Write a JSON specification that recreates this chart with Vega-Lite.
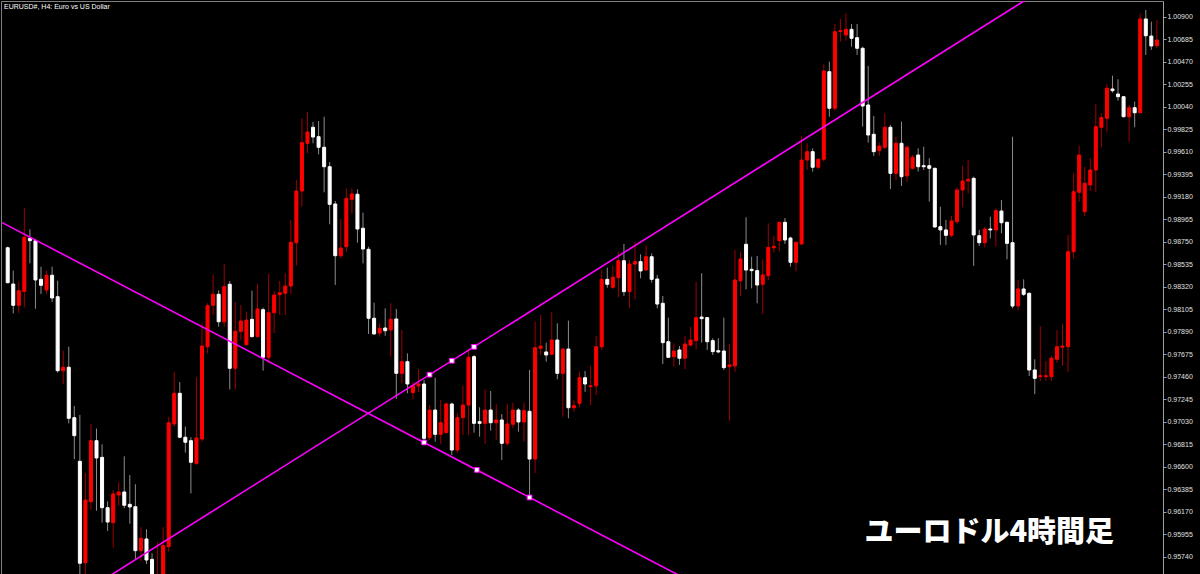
{
  "$schema": "https://vega.github.io/schema/vega-lite/v6.json",
  "width": 1162,
  "height": 575,
  "padding": {"left": 1, "top": 1, "right": 37, "bottom": 0},
  "autosize": "none",
  "background": "#000000",
  "title": {
    "text": "EURUSD#, H4:  Euro vs US Dollar",
    "anchor": "start",
    "frame": "group",
    "offset": -15,
    "dx": 3,
    "font": "Liberation Sans",
    "fontSize": 7,
    "fontWeight": "normal",
    "color": "#ffffff",
    "baseline": "alphabetic"
  },
  "config": {
    "view": {"stroke": "#808080", "strokeWidth": 1},
    "font": "Liberation Sans",
    "axis": {"labelOverlap": false, "labelBound": false, "labelSeparation": 0}
  },
  "datasets": {
    "candles": [
      {"i":0,"o":0.98695,"h":0.98705,"l":0.98355,"c":0.98361},
      {"i":1,"o":0.98348,"h":0.98476,"l":0.98068,"c":0.98145},
      {"i":2,"o":0.98145,"h":0.98370,"l":0.98074,"c":0.98284},
      {"i":3,"o":0.98279,"h":0.99075,"l":0.98126,"c":0.98795},
      {"i":4,"o":0.98785,"h":0.98871,"l":0.98546,"c":0.98762},
      {"i":5,"o":0.98762,"h":0.98776,"l":0.98112,"c":0.98387},
      {"i":6,"o":0.98393,"h":0.98514,"l":0.98253,"c":0.98336},
      {"i":7,"o":0.98291,"h":0.98476,"l":0.98253,"c":0.98432},
      {"i":8,"o":0.98432,"h":0.98514,"l":0.98176,"c":0.98215},
      {"i":9,"o":0.98227,"h":0.98380,"l":0.97501,"c":0.97520},
      {"i":10,"o":0.97520,"h":0.97711,"l":0.97393,"c":0.97553},
      {"i":11,"o":0.97553,"h":0.97749,"l":0.97017,"c":0.97065},
      {"i":12,"o":0.97071,"h":0.97183,"l":0.96673,"c":0.96899},
      {"i":13,"o":0.96654,"h":0.97097,"l":0.95520,"c":0.95680},
      {"i":14,"o":0.95685,"h":0.96543,"l":0.95539,"c":0.96284},
      {"i":15,"o":0.96268,"h":0.97011,"l":0.96189,"c":0.96851},
      {"i":16,"o":0.96851,"h":0.96966,"l":0.96182,"c":0.96686},
      {"i":17,"o":0.96692,"h":0.96817,"l":0.96068,"c":0.96211},
      {"i":18,"o":0.96211,"h":0.96272,"l":0.95988,"c":0.96074},
      {"i":19,"o":0.96068,"h":0.96380,"l":0.95829,"c":0.96342},
      {"i":20,"o":0.96332,"h":0.96454,"l":0.96230,"c":0.96361},
      {"i":21,"o":0.96361,"h":0.96702,"l":0.96205,"c":0.96234},
      {"i":22,"o":0.96243,"h":0.96523,"l":0.96058,"c":0.96218},
      {"i":23,"o":0.96220,"h":0.96435,"l":0.95711,"c":0.95800},
      {"i":24,"o":0.95800,"h":0.96024,"l":0.95701,"c":0.95918},
      {"i":25,"o":0.95912,"h":0.96004,"l":0.95673,"c":0.95711},
      {"i":26,"o":0.95717,"h":0.95775,"l":0.95472,"c":0.95520},
      {"i":27,"o":0.95480,"h":0.95880,"l":0.95460,"c":0.95545},
      {"i":28,"o":0.95472,"h":0.96024,"l":0.95424,"c":0.95848},
      {"i":29,"o":0.95838,"h":0.97080,"l":0.95790,"c":0.97023},
      {"i":30,"o":0.97011,"h":0.97505,"l":0.96985,"c":0.97304},
      {"i":31,"o":0.97304,"h":0.97412,"l":0.96874,"c":0.96884},
      {"i":32,"o":0.96884,"h":0.96985,"l":0.96737,"c":0.96836},
      {"i":33,"o":0.96851,"h":0.96884,"l":0.96348,"c":0.96645},
      {"i":34,"o":0.96635,"h":0.97457,"l":0.96619,"c":0.96877},
      {"i":35,"o":0.96867,"h":0.97973,"l":0.96842,"c":0.97756},
      {"i":36,"o":0.97749,"h":0.98164,"l":0.97686,"c":0.98141},
      {"i":37,"o":0.98145,"h":0.98441,"l":0.98052,"c":0.98250},
      {"i":38,"o":0.98250,"h":0.98288,"l":0.97940,"c":0.97988},
      {"i":39,"o":0.97988,"h":0.98539,"l":0.97940,"c":0.98323},
      {"i":40,"o":0.98346,"h":0.98377,"l":0.97342,"c":0.97543},
      {"i":41,"o":0.97543,"h":0.98176,"l":0.97342,"c":0.97896},
      {"i":42,"o":0.97896,"h":0.98148,"l":0.97813,"c":0.97995},
      {"i":43,"o":0.97768,"h":0.98084,"l":0.97765,"c":0.98004},
      {"i":44,"o":0.98011,"h":0.98284,"l":0.97839,"c":0.97845},
      {"i":45,"o":0.97845,"h":0.98346,"l":0.97839,"c":0.98110},
      {"i":46,"o":0.98103,"h":0.98122,"l":0.97520,"c":0.97648},
      {"i":47,"o":0.97648,"h":0.98447,"l":0.97591,"c":0.98074},
      {"i":48,"o":0.98074,"h":0.98282,"l":0.97880,"c":0.98243},
      {"i":49,"o":0.98246,"h":0.98377,"l":0.98052,"c":0.98265},
      {"i":50,"o":0.98260,"h":0.98451,"l":0.98052,"c":0.98329},
      {"i":51,"o":0.98329,"h":0.98960,"l":0.98253,"c":0.98747},
      {"i":52,"o":0.98743,"h":0.99342,"l":0.98523,"c":0.99237},
      {"i":53,"o":0.99237,"h":0.99932,"l":0.99087,"c":0.99699},
      {"i":54,"o":0.99693,"h":0.99995,"l":0.99598,"c":0.99801},
      {"i":55,"o":0.99846,"h":0.99897,"l":0.99693,"c":0.99753},
      {"i":56,"o":0.99756,"h":0.99906,"l":0.99588,"c":0.99655},
      {"i":57,"o":0.99655,"h":0.99947,"l":0.99225,"c":0.99469},
      {"i":58,"o":0.99469,"h":0.99514,"l":0.98919,"c":0.99110},
      {"i":59,"o":0.99113,"h":0.99142,"l":0.98339,"c":0.98619},
      {"i":60,"o":0.98619,"h":0.98970,"l":0.98594,"c":0.98692},
      {"i":61,"o":0.98705,"h":0.99263,"l":0.98657,"c":0.99167},
      {"i":62,"o":0.99158,"h":0.99263,"l":0.99024,"c":0.99209},
      {"i":63,"o":0.99206,"h":0.99253,"l":0.98743,"c":0.98874},
      {"i":64,"o":0.98881,"h":0.99030,"l":0.98546,"c":0.98683},
      {"i":65,"o":0.98680,"h":0.98705,"l":0.97871,"c":0.98021},
      {"i":66,"o":0.98021,"h":0.98170,"l":0.97865,"c":0.97871},
      {"i":67,"o":0.97880,"h":0.97973,"l":0.97845,"c":0.97925},
      {"i":68,"o":0.97928,"h":0.98116,"l":0.97854,"c":0.97902},
      {"i":69,"o":0.97909,"h":0.98164,"l":0.97654,"c":0.98011},
      {"i":70,"o":0.98014,"h":0.98110,"l":0.97250,"c":0.97495},
      {"i":71,"o":0.97495,"h":0.97909,"l":0.97399,"c":0.97606},
      {"i":72,"o":0.97606,"h":0.97686,"l":0.97304,"c":0.97393},
      {"i":73,"o":0.97310,"h":0.97415,"l":0.97247,"c":0.97376},
      {"i":74,"o":0.97374,"h":0.97533,"l":0.97313,"c":0.97393},
      {"i":75,"o":0.97393,"h":0.97431,"l":0.96842,"c":0.96874},
      {"i":76,"o":0.96880,"h":0.97192,"l":0.96858,"c":0.97144},
      {"i":77,"o":0.97144,"h":0.97453,"l":0.96842,"c":0.96912},
      {"i":78,"o":0.96912,"h":0.97240,"l":0.96820,"c":0.97023},
      {"i":79,"o":0.96928,"h":0.97214,"l":0.96922,"c":0.97202},
      {"i":80,"o":0.97202,"h":0.97214,"l":0.96714,"c":0.96762},
      {"i":81,"o":0.96762,"h":0.97113,"l":0.96737,"c":0.97071},
      {"i":82,"o":0.97071,"h":0.97376,"l":0.96906,"c":0.97192},
      {"i":83,"o":0.97192,"h":0.97725,"l":0.96906,"c":0.97648},
      {"i":84,"o":0.97654,"h":0.97670,"l":0.96928,"c":0.97017},
      {"i":85,"o":0.97033,"h":0.97170,"l":0.96889,"c":0.97017},
      {"i":86,"o":0.97017,"h":0.97342,"l":0.96820,"c":0.97144},
      {"i":87,"o":0.97144,"h":0.97326,"l":0.96947,"c":0.97023},
      {"i":88,"o":0.97023,"h":0.97199,"l":0.96858,"c":0.97049},
      {"i":89,"o":0.97049,"h":0.97106,"l":0.96667,"c":0.96826},
      {"i":90,"o":0.96826,"h":0.97202,"l":0.96803,"c":0.97011},
      {"i":91,"o":0.97008,"h":0.97214,"l":0.96970,"c":0.97144},
      {"i":92,"o":0.97144,"h":0.97161,"l":0.96937,"c":0.97030},
      {"i":93,"o":0.97030,"h":0.97214,"l":0.96842,"c":0.97138},
      {"i":94,"o":0.97132,"h":0.97527,"l":0.96316,"c":0.96676},
      {"i":95,"o":0.96676,"h":0.97988,"l":0.96543,"c":0.97740},
      {"i":96,"o":0.97734,"h":0.98052,"l":0.97670,"c":0.97756},
      {"i":97,"o":0.97699,"h":0.97788,"l":0.97606,"c":0.97670},
      {"i":98,"o":0.97677,"h":0.98084,"l":0.97670,"c":0.97813},
      {"i":99,"o":0.97813,"h":0.97973,"l":0.97438,"c":0.97495},
      {"i":100,"o":0.97495,"h":0.97734,"l":0.97080,"c":0.97727},
      {"i":101,"o":0.97727,"h":0.97998,"l":0.97065,"c":0.97166},
      {"i":102,"o":0.97166,"h":0.97240,"l":0.97128,"c":0.97186},
      {"i":103,"o":0.97209,"h":0.97510,"l":0.97170,"c":0.97453},
      {"i":104,"o":0.97453,"h":0.97517,"l":0.97319,"c":0.97393},
      {"i":105,"o":0.97367,"h":0.97565,"l":0.97192,"c":0.97376},
      {"i":106,"o":0.97376,"h":0.97852,"l":0.97288,"c":0.97749},
      {"i":107,"o":0.97749,"h":0.98482,"l":0.97718,"c":0.98393},
      {"i":108,"o":0.98393,"h":0.98504,"l":0.98313,"c":0.98346},
      {"i":109,"o":0.98317,"h":0.98521,"l":0.98301,"c":0.98413},
      {"i":110,"o":0.98409,"h":0.98657,"l":0.98221,"c":0.98571},
      {"i":111,"o":0.98571,"h":0.98731,"l":0.98234,"c":0.98275},
      {"i":112,"o":0.98275,"h":0.98578,"l":0.98116,"c":0.98539},
      {"i":113,"o":0.98539,"h":0.98753,"l":0.98202,"c":0.98562},
      {"i":114,"o":0.98562,"h":0.98632,"l":0.98403,"c":0.98473},
      {"i":115,"o":0.98482,"h":0.98718,"l":0.98476,"c":0.98609},
      {"i":116,"o":0.98609,"h":0.98642,"l":0.98361,"c":0.98393},
      {"i":117,"o":0.98396,"h":0.98435,"l":0.98116,"c":0.98157},
      {"i":118,"o":0.98164,"h":0.98234,"l":0.97584,"c":0.97788},
      {"i":119,"o":0.97797,"h":0.98027,"l":0.97645,"c":0.97648},
      {"i":120,"o":0.97654,"h":0.97782,"l":0.97558,"c":0.97708},
      {"i":121,"o":0.97718,"h":0.97756,"l":0.97575,"c":0.97639},
      {"i":122,"o":0.97639,"h":0.97854,"l":0.97536,"c":0.97775},
      {"i":123,"o":0.97765,"h":0.97940,"l":0.97756,"c":0.97813},
      {"i":124,"o":0.97807,"h":0.98370,"l":0.97725,"c":0.98027},
      {"i":125,"o":0.98033,"h":0.98451,"l":0.97788,"c":0.98017},
      {"i":126,"o":0.98027,"h":0.98030,"l":0.97718,"c":0.97797},
      {"i":127,"o":0.97807,"h":0.97830,"l":0.97670,"c":0.97702},
      {"i":128,"o":0.97711,"h":0.97830,"l":0.97686,"c":0.97699},
      {"i":129,"o":0.97708,"h":0.98027,"l":0.97527,"c":0.97549},
      {"i":130,"o":0.97558,"h":0.97775,"l":0.97042,"c":0.97575},
      {"i":131,"o":0.97565,"h":0.98673,"l":0.97510,"c":0.98387},
      {"i":132,"o":0.98380,"h":0.98657,"l":0.98234,"c":0.98587},
      {"i":133,"o":0.98728,"h":0.98986,"l":0.98298,"c":0.98482},
      {"i":134,"o":0.98489,"h":0.98609,"l":0.98307,"c":0.98476},
      {"i":135,"o":0.98476,"h":0.98616,"l":0.98164,"c":0.98339},
      {"i":136,"o":0.98346,"h":0.98584,"l":0.98062,"c":0.98435},
      {"i":137,"o":0.98428,"h":0.98928,"l":0.98387,"c":0.98699},
      {"i":138,"o":0.98695,"h":0.98810,"l":0.98651,"c":0.98709},
      {"i":139,"o":0.98762,"h":0.98941,"l":0.98661,"c":0.98938},
      {"i":140,"o":0.98938,"h":0.98979,"l":0.98731,"c":0.98769},
      {"i":141,"o":0.98788,"h":0.98800,"l":0.98514,"c":0.98556},
      {"i":142,"o":0.98556,"h":0.98750,"l":0.98470,"c":0.98747},
      {"i":143,"o":0.98731,"h":0.99763,"l":0.98722,"c":0.99533},
      {"i":144,"o":0.99533,"h":0.99693,"l":0.99438,"c":0.99613},
      {"i":145,"o":0.99613,"h":0.99645,"l":0.99422,"c":0.99464},
      {"i":146,"o":0.99464,"h":0.99550,"l":0.99445,"c":0.99540},
      {"i":147,"o":0.99540,"h":1.00448,"l":0.99517,"c":1.00384},
      {"i":148,"o":1.00377,"h":1.00473,"l":0.99947,"c":1.00028},
      {"i":149,"o":1.00028,"h":1.00833,"l":1.00005,"c":1.00760},
      {"i":150,"o":1.00760,"h":1.00881,"l":1.00664,"c":1.00769},
      {"i":151,"o":1.00728,"h":1.00935,"l":1.00674,"c":1.00782},
      {"i":152,"o":1.00782,"h":1.00833,"l":1.00616,"c":1.00696},
      {"i":153,"o":1.00702,"h":1.00833,"l":1.00537,"c":1.00601},
      {"i":154,"o":1.00601,"h":1.00616,"l":0.99852,"c":1.00049},
      {"i":155,"o":1.00059,"h":1.00432,"l":0.99699,"c":0.99772},
      {"i":156,"o":0.99779,"h":0.99954,"l":0.99572,"c":0.99613},
      {"i":157,"o":0.99622,"h":0.99699,"l":0.99572,"c":0.99667},
      {"i":158,"o":0.99655,"h":0.99980,"l":0.99636,"c":0.99846},
      {"i":159,"o":0.99846,"h":0.99868,"l":0.99256,"c":0.99406},
      {"i":160,"o":0.99406,"h":0.99756,"l":0.99342,"c":0.99693},
      {"i":161,"o":0.99693,"h":0.99899,"l":0.99285,"c":0.99374},
      {"i":162,"o":0.99381,"h":0.99677,"l":0.99326,"c":0.99655},
      {"i":163,"o":0.99454,"h":0.99581,"l":0.99445,"c":0.99559},
      {"i":164,"o":0.99581,"h":0.99645,"l":0.99422,"c":0.99469},
      {"i":165,"o":0.99479,"h":0.99660,"l":0.99438,"c":0.99469},
      {"i":166,"o":0.99479,"h":0.99550,"l":0.99135,"c":0.99454},
      {"i":167,"o":0.99454,"h":0.99460,"l":0.98887,"c":0.98893},
      {"i":168,"o":0.98896,"h":0.99087,"l":0.98722,"c":0.98865},
      {"i":169,"o":0.98865,"h":0.98960,"l":0.98722,"c":0.98814},
      {"i":170,"o":0.98814,"h":0.98998,"l":0.98795,"c":0.98951},
      {"i":171,"o":0.98944,"h":0.99273,"l":0.98922,"c":0.99247},
      {"i":172,"o":0.99247,"h":0.99476,"l":0.99081,"c":0.99333},
      {"i":173,"o":0.99333,"h":0.99533,"l":0.99215,"c":0.99349},
      {"i":174,"o":0.99358,"h":0.99374,"l":0.98521,"c":0.98817},
      {"i":175,"o":0.98810,"h":0.98865,"l":0.98712,"c":0.98743},
      {"i":176,"o":0.98743,"h":0.98893,"l":0.98699,"c":0.98874},
      {"i":177,"o":0.98874,"h":0.98992,"l":0.98785,"c":0.98865},
      {"i":178,"o":0.98865,"h":0.99072,"l":0.98705,"c":0.99049},
      {"i":179,"o":0.99046,"h":0.99151,"l":0.98833,"c":0.98934},
      {"i":180,"o":0.98938,"h":0.98944,"l":0.98584,"c":0.98737},
      {"i":181,"o":0.98743,"h":0.99756,"l":0.98116,"c":0.98138},
      {"i":182,"o":0.98138,"h":0.98387,"l":0.98093,"c":0.98301},
      {"i":183,"o":0.98301,"h":0.98393,"l":0.98234,"c":0.98250},
      {"i":184,"o":0.98260,"h":0.98265,"l":0.97469,"c":0.97527},
      {"i":185,"o":0.97527,"h":0.97629,"l":0.97295,"c":0.97447},
      {"i":186,"o":0.97463,"h":0.97947,"l":0.97422,"c":0.97472},
      {"i":187,"o":0.97463,"h":0.97613,"l":0.97422,"c":0.97472},
      {"i":188,"o":0.97463,"h":0.97661,"l":0.97422,"c":0.97639},
      {"i":189,"o":0.97629,"h":0.97909,"l":0.97596,"c":0.97749},
      {"i":190,"o":0.97744,"h":0.97966,"l":0.97565,"c":0.97756},
      {"i":191,"o":0.97749,"h":0.98817,"l":0.97510,"c":0.98657},
      {"i":192,"o":0.98657,"h":0.99406,"l":0.98594,"c":0.99230},
      {"i":193,"o":0.99225,"h":0.99667,"l":0.99135,"c":0.99581},
      {"i":194,"o":0.99039,"h":0.99469,"l":0.98998,"c":0.99311},
      {"i":195,"o":0.99295,"h":0.99550,"l":0.99237,"c":0.99438},
      {"i":196,"o":0.99438,"h":1.00066,"l":0.99230,"c":0.99852},
      {"i":197,"o":0.99846,"h":0.99980,"l":0.99655,"c":0.99938},
      {"i":198,"o":0.99932,"h":1.00260,"l":0.99798,"c":1.00219},
      {"i":199,"o":1.00212,"h":1.00339,"l":1.00177,"c":1.00196},
      {"i":200,"o":1.00164,"h":1.00305,"l":1.00100,"c":1.00138},
      {"i":201,"o":1.00138,"h":1.00145,"l":0.99941,"c":0.99947},
      {"i":202,"o":0.99947,"h":1.00059,"l":0.99708,"c":1.00033},
      {"i":203,"o":1.00033,"h":1.00091,"l":0.99846,"c":0.99985},
      {"i":204,"o":0.99985,"h":1.00935,"l":0.99980,"c":1.00881},
      {"i":205,"o":1.00881,"h":1.00967,"l":1.00537,"c":1.00721},
      {"i":206,"o":1.00718,"h":1.00855,"l":1.00585,"c":1.00623},
      {"i":207,"o":1.00626,"h":1.00871,"l":1.00601,"c":1.00680}
    ],
    "lines": [
      {"line": "down", "i": -1, "p": 0.98935},
      {"line": "down", "i": 125, "p": 0.95452},
      {"line": "up", "i": 15, "p": 0.95447},
      {"line": "up", "i": 190, "p": 1.01284}
    ],
    "anchors": [
      {"i": 75, "p": 0.96834},
      {"i": 84.5, "p": 0.96572},
      {"i": 94, "p": 0.96309},
      {"i": 76, "p": 0.97482},
      {"i": 80, "p": 0.97615},
      {"i": 84, "p": 0.97748}
    ]
  },
  "encoding": {
    "x": {
      "field": "i",
      "type": "quantitative",
      "scale": {"domain": [-0.304, 207.2], "nice": false, "zero": false},
      "axis": null
    }
  },
  "layer": [
    {
      "data": {"name": "candles"},
      "mark": {"type": "rule", "strokeWidth": 1, "clip": true},
      "encoding": {
        "y": {
          "field": "l",
          "type": "quantitative",
          "scale": {"domain": [0.955581, 1.010528], "nice": false, "zero": false},
          "axis": {
            "orient": "right",
            "title": null,
            "grid": false,
            "values": [0.9574, 0.95955, 0.9617, 0.96385, 0.966, 0.96815, 0.9703, 0.97245, 0.9746, 0.97675, 0.9789, 0.98105, 0.9832, 0.98535, 0.9875, 0.98965, 0.9918, 0.99395, 0.9961, 0.99825, 1.0004, 1.00255, 1.0047, 1.00685, 1.009],
            "tickCount": 60,
            "format": ".5f",
            "domainColor": "#a0a0a0",
            "tickColor": "#a0a0a0",
            "tickSize": 3,
            "labelPadding": 1,
            "labelColor": "#e0e0e0",
            "labelFont": "Liberation Sans",
            "labelFontSize": 7,
            "labelOverlap": false,
            "labelFlush": false
          }
        },
        "y2": {"field": "h"},
        "color": {
          "condition": {"test": "datum.c > datum.o", "value": "#a00000"},
          "value": "#8c8c8c"
        }
      }
    },
    {
      "data": {"name": "candles"},
      "mark": {"type": "bar", "width": 3, "strokeWidth": 1, "clip": true},
      "encoding": {
        "y": {"field": "o", "type": "quantitative", "title": null},
        "y2": {"field": "c"},
        "color": {
          "condition": {"test": "datum.c > datum.o", "value": "#ff0000"},
          "value": "#ffffff"
        },
        "stroke": {
          "condition": {"test": "datum.c > datum.o", "value": "#ff0000"},
          "value": "#ffffff"
        }
      }
    },
    {
      "data": {"name": "lines"},
      "mark": {"type": "line", "color": "#ff00ff", "strokeWidth": 1.6, "clip": true},
      "encoding": {
        "y": {"field": "p", "type": "quantitative", "title": null},
        "detail": {"field": "line"}
      }
    },
    {
      "data": {"name": "anchors"},
      "mark": {"type": "point", "shape": "square", "size": 22, "filled": true, "fill": "#ffffff", "stroke": "#ff00ff", "strokeWidth": 1, "opacity": 1},
      "encoding": {
        "y": {"field": "p", "type": "quantitative", "title": null}
      }
    },
    {
      "data": {"values": [{"label": "ユーロドル4時間足", "i": 176.8, "p": 0.95966}]},
      "mark": {"type": "text", "font": "Noto Sans CJK JP", "fontSize": 29, "fontWeight": 900, "color": "#ffffff", "align": "center", "baseline": "middle"},
      "encoding": {
        "y": {"field": "p", "type": "quantitative", "title": null},
        "text": {"field": "label"}
      }
    }
  ]
}
